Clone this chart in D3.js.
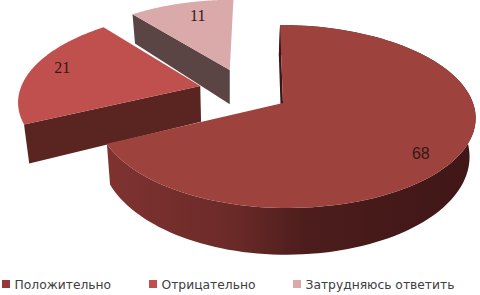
<!DOCTYPE html>
<html>
<head>
<meta charset="utf-8">
<script src="https://cdn.jsdelivr.net/npm/d3@7"></script>
<style>
  html, body { margin: 0; padding: 0; background: #fff; }
  svg { display: block; }
</style>
</head>
<body>
<div id="chart"></div>
<script>
const categories = ['Положительно', 'Отрицательно', 'Затрудняюсь ответить'];
const values = [68, 21, 11];

const topColors = ['#9e423e', '#c0504d', '#d9aaa9'];
const wallColors = ['#3d1514', '#5a2420', '#5b4544'];
const legendColors = ['#95383a', '#c0504d', '#d9aaa9'];
const legendX = [2, 149, 293];

const width = 480;
const height = 295;

// how far each slice is pulled out, in units of the pie radius
const explode = [[0, 0], [-0.459, -0.195], [-0.299, -0.39]];
const labelShift = [[-10, 7], [5, -3], [10, 3]];
const labelFonts = ['"Liberation Sans", sans-serif', '"Liberation Serif", serif', '"Liberation Serif", serif'];

const svg = d3.select('#chart')
  .append('svg')
  .attr('width', width)
  .attr('height', height);

const grad = svg.append('defs').append('linearGradient')
  .attr('id', 'rim')
  .attr('gradientUnits', 'userSpaceOnUse')
  .attr('x1', 105).attr('x2', 470).attr('y1', 0).attr('y2', 0);
grad.append('stop').attr('offset', 0).attr('stop-color', '#7f3331');
grad.append('stop').attr('offset', 0.35).attr('stop-color', '#6b2a28');
grad.append('stop').attr('offset', 0.55).attr('stop-color', '#4c1d1c');
grad.append('stop').attr('offset', 1).attr('stop-color', '#401617');

const pie = d3.pie().sort(null).value(d => d)(values);

// tilted disc with some perspective, the far edge comes out smaller
const k = 0.1475;
const xScale = d3.scaleLinear().domain([-1, 0, 1]).range([99, 283, 473]);
const yScale = d3.scaleLinear().domain([0, 1]).range([103, 192.5]);

const project = (u, v) => {
  const w = 1 - k * v;
  return [xScale(u / w) + 3.4 * v / w, yScale(v / w)];
};
const sink = p => [p[0] * 0.975 + 5.8, p[1] * 1.09 + 28];

const line = d3.line();

const onRim = (a, off, r = 1) =>
  project(r * Math.sin(a) + off[0], -r * Math.cos(a) + off[1]);

// draw far slices first so the big one lands on top
d3.range(values.length).reverse().forEach(i => {
  const s = pie[i];
  const off = explode[i];
  const steps = d3.range(0, 121).map(n => s.startAngle + (s.endAngle - s.startAngle) * n / 120);
  const rim = steps.map(a => onRim(a, off));
  const apex = project(off[0], off[1]);
  const first = rim[0];

  const g = svg.append('g');

  // only the big slice shows its outer wall, the others have it behind them
  if (i === 0) {
    g.append('path')
      .attr('d', line(rim.concat(rim.map(sink).reverse())) + 'Z')
      .attr('fill', 'url(#rim)');
  }

  g.append('path')
    .attr('d', line([first, apex, sink(apex), sink(first)]) + 'Z')
    .attr('fill', wallColors[i]);

  g.append('path')
    .attr('d', line([apex].concat(rim)) + 'Z')
    .attr('fill', topColors[i]);
});

// data labels
pie.forEach((s, i) => {
  const p = onRim((s.startAngle + s.endAngle) / 2, explode[i], 0.85);
  svg.append('text')
    .attr('x', p[0] + labelShift[i][0])
    .attr('y', p[1] + labelShift[i][1])
    .attr('dy', '0.35em')
    .attr('text-anchor', 'middle')
    .style('font-family', labelFonts[i])
    .style('font-size', '16px')
    .style('fill', '#351716')
    .text(values[i]);
});

// legend
const legend = svg.selectAll('.legend')
  .data(categories)
  .enter()
  .append('g')
  .attr('class', 'legend')
  .attr('transform', (d, i) => `translate(${legendX[i]},280)`);

legend.append('rect')
  .attr('width', 8)
  .attr('height', 8)
  .attr('fill', (d, i) => legendColors[i]);

legend.append('text')
  .attr('x', 12.5)
  .attr('y', 9)
  .style('font-family', '"DejaVu Sans", sans-serif')
  .style('font-size', '12.3px')
  .style('fill', '#404040')
  .text(d => d);
</script>
</body>
</html>
